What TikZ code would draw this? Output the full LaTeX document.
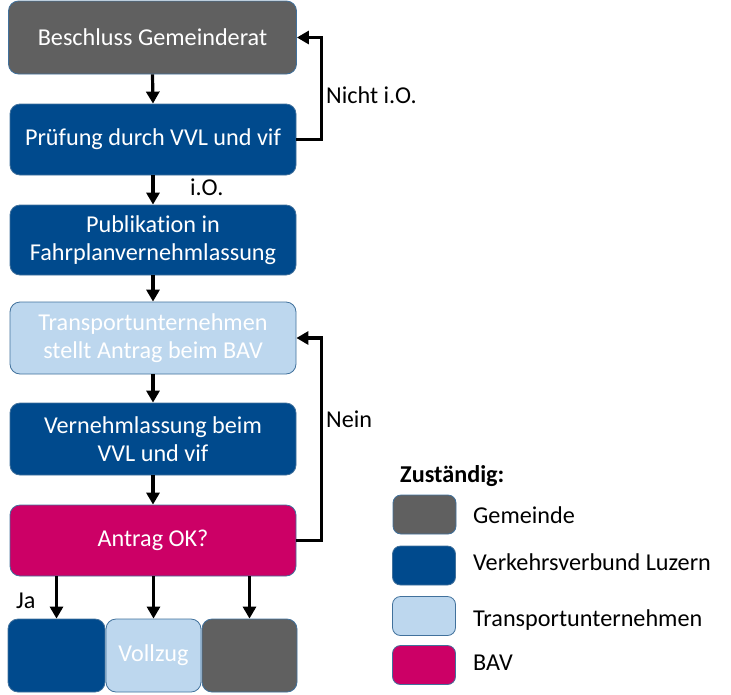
\documentclass[tikz,border=0pt]{standalone}
\usepackage{fontspec}
\setmainfont{Carlito}[Ligatures={NoCommon}]
\usetikzlibrary{arrows.meta}
\definecolor{cgrey}{HTML}{606060}
\definecolor{cblue}{HTML}{004A8D}
\definecolor{clight}{HTML}{BDD7EE}
\definecolor{cmag}{HTML}{CC0066}
\definecolor{cborder}{HTML}{41719C}
\tikzset{
  box/.style={draw=cborder, line width=0.8pt, rounded corners=10pt, text=white, align=center,
    inner sep=0pt, font=\fontsize{24.2}{28}\selectfont},
  swatch/.style={draw=cborder, line width=0.8pt, rounded corners=8pt, inner sep=0pt,
    minimum width=63pt, minimum height=39pt},
  arr/.style={line width=3.2pt, -{Triangle[width=13pt,length=12pt]}},
  lbl/.style={font=\fontsize{24.2}{28}\selectfont, text=black, inner sep=0pt, anchor=west}
}
\begin{document}
\begin{tikzpicture}[x=1pt,y=-1pt]
\useasboundingbox (0,0) rectangle (731,694);
\node[box, fill=cgrey, minimum width=288pt, minimum height=73pt] (b1) at (152.5,37.5) {Beschluss Gemeinderat};
\node[box, fill=cblue, minimum width=286pt, minimum height=71pt] (b2) at (153,139.5) {Prüfung durch VVL und vif};
\node[box, fill=cblue, minimum width=286pt, minimum height=70pt] (b3) at (153,240) {Publikation in\\Fahrplanvernehmlassung};
\node[box, fill=clight, minimum width=286pt, minimum height=72pt] (b4) at (153,338) {Transportunternehmen\\stellt Antrag beim BAV};
\node[box, fill=cblue, minimum width=286pt, minimum height=72pt] (b5) at (153,439) {Vernehmlassung beim\\VVL und vif};
\node[box, fill=cmag, minimum width=286pt, minimum height=71pt] (b6) at (153,540.5) {Antrag OK?};
\node[box, fill=cblue, minimum width=97pt, minimum height=73pt] (ba) at (56.5,655.5) {};
\node[box, fill=clight, minimum width=95pt, minimum height=73pt] (bb) at (153.5,655.5) {Vollzug};
\node[box, fill=cgrey, minimum width=95pt, minimum height=73pt] (bc) at (249.5,655.5) {};

\draw[arr] (b1.south) -- (b2.north);
\draw[arr] (b2.south) -- (b3.north);
\draw[arr] (b3.south) -- (b4.north);
\draw[arr] (b4.south) -- (b5.north);
\draw[arr] (b5.south) -- (b6.north);
\draw[arr] (b6.south -| ba) -- (ba.north);
\draw[arr] (b6.south -| bb) -- (bb.north);
\draw[arr] (b6.south -| bc) -- (bc.north);
\draw[arr] (b2.east) -- ++(25,0) |- (b1.east);
\draw[arr] (b6.east) -- ++(25,0) |- (b4.east);

\node[lbl] (lio) at (190,187) {i.O.};
\node[lbl] (lnio) at (326,95) {Nicht i.O.};
\node[lbl] (lnein) at (326,419) {Nein};
\node[lbl] (lja) at (16,601) {Ja};

\node[lbl, font=\fontsize{24.2}{28}\selectfont\bfseries] (lz) at (400,476) {Zuständig:};
\node[swatch, fill=cgrey] (s1) at (424.5,514.5) {};
\node[swatch, fill=cblue] (s2) at (424,565.5) {};
\node[swatch, fill=clight] (s3) at (424,616) {};
\node[swatch, fill=cmag] (s4) at (424,665) {};
\node[lbl] (t1) at (473,515) {Gemeinde};
\node[lbl] (t2) at (473,562) {Verkehrsverbund Luzern};
\node[lbl] (t3) at (473,620) {Transportunternehmen};
\node[lbl] (t4) at (473,663) {BAV};
\end{tikzpicture}
\end{document}
